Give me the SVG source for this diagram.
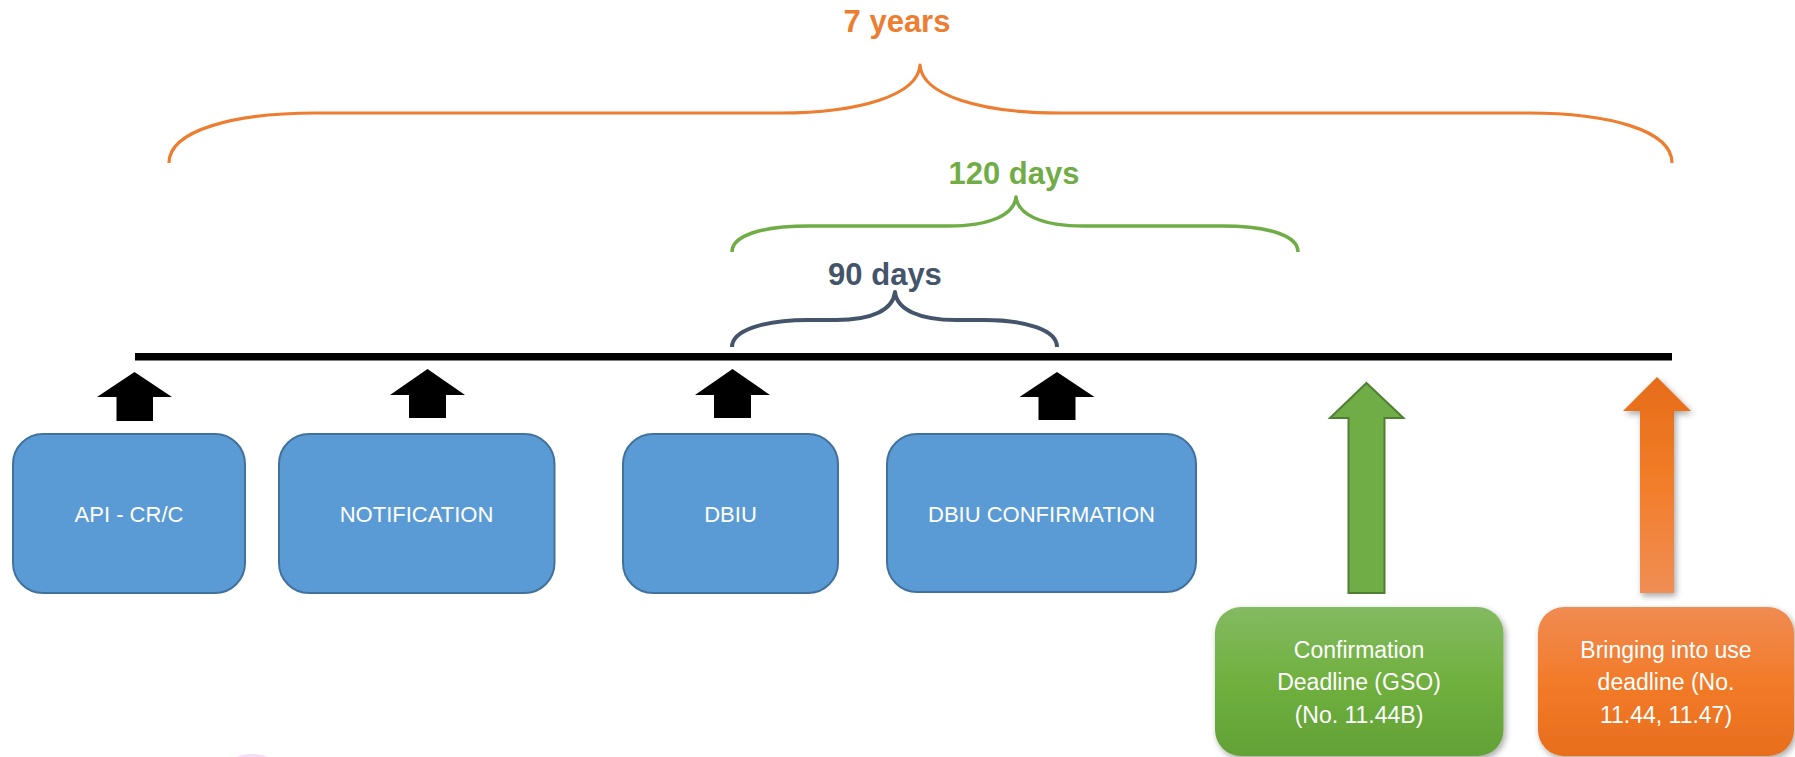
<svg xmlns="http://www.w3.org/2000/svg" width="1795" height="757" viewBox="0 0 1795 757">
  <style>
    .brace { fill: none; stroke-linecap: butt; stroke-linejoin: round; }
    .label { font-family: "Liberation Sans", Arial, sans-serif; font-weight: bold; font-size: 31px; text-anchor: middle; }
    .box { fill: #5B9BD5; stroke: #41719C; stroke-width: 2; }
    .boxtext { font-family: "Liberation Sans", Arial, sans-serif; font-size: 22px; fill: #FFFFFF; text-anchor: middle; }
    .dltext { font-family: "Liberation Sans", Arial, sans-serif; font-size: 23px; fill: #FFFFFF; text-anchor: middle; }
    .blk { fill: #000000; }
  </style>
  <defs>
    <linearGradient id="gOrangeArrow" x1="0" y1="0" x2="0" y2="1">
      <stop offset="0" stop-color="#E66C19"/>
      <stop offset="0.5" stop-color="#F27D2A"/>
      <stop offset="1" stop-color="#F08E55"/>
    </linearGradient>
    <linearGradient id="gOrangeBox" x1="0" y1="0" x2="0" y2="1">
      <stop offset="0" stop-color="#F08B52"/>
      <stop offset="0.5" stop-color="#F27B2A"/>
      <stop offset="1" stop-color="#E86E1C"/>
    </linearGradient>
    <linearGradient id="gGreenBox" x1="0" y1="0" x2="0" y2="1">
      <stop offset="0" stop-color="#84BA62"/>
      <stop offset="0.5" stop-color="#70B03F"/>
      <stop offset="1" stop-color="#62A136"/>
    </linearGradient>
    <filter id="shadow" x="-20%" y="-20%" width="140%" height="140%">
      <feDropShadow dx="2" dy="3" stdDeviation="3" flood-color="#000000" flood-opacity="0.35"/>
    </filter>
  </defs>

  <!-- faint artifact -->
  <ellipse cx="252" cy="772" rx="28" ry="18" fill="#EFC6F3" opacity="0.6"/>

  <!-- timeline -->
  <g id="timeline">
    <rect x="135" y="353" width="1537" height="7.5" fill="#000000"/>
  </g>

  <!-- braces and labels -->
  <g id="brace-7years">
    <path class="brace" stroke="#ED7D31" stroke-width="3.2" d="M169,163 C169,130 235,113 316,113 L780,113 C860,113 918,95 920,65 C922,95 980,113 1060,113 L1528,113 C1608,113 1672,130 1672,163"/>
    <text class="label" x="897" y="32" fill="#ED7D31">7 years</text>
  </g>
  <g id="brace-120days">
    <path class="brace" stroke="#70AD47" stroke-width="3.5" d="M732,252 C732,236 760,226 809,226 L948,226 C990,226 1014,215 1016,197 C1018,215 1042,226 1084,226 L1222,226 C1270,226 1298,236 1298,252"/>
    <text class="label" x="1014" y="184" fill="#70AD47">120 days</text>
  </g>
  <g id="brace-90days">
    <path class="brace" stroke="#44546A" stroke-width="4" d="M732,347 C732,330 765,320 808,320 L836,320 C872,320 893,310 895,292 C897,310 920,320 956,320 L984,320 C1026,320 1057,330 1057,347"/>
    <text class="label" x="885" y="285" fill="#44546A">90 days</text>
  </g>

  <!-- connectors (block arrows) -->
  <g id="connectors">
    <polygon class="blk" points="134.5,372 172,397 153,397 153,421 116.5,421 116.5,397 97,397"/>
    <polygon class="blk" points="427.5,369 465,395 446,395 446,418 409,418 409,395 390,395"/>
    <polygon class="blk" points="732.5,369 770,395 751,395 751,418 714,418 714,395 695,395"/>
    <polygon class="blk" points="1057,372 1094.5,397 1075.5,397 1075.5,420 1038.5,420 1038.5,397 1019.5,397"/>
    <polygon fill="#70AD47" stroke="#507E32" stroke-width="2" points="1366.5,383 1403.5,418 1384.5,418 1384.5,593 1348.5,593 1348.5,418 1330,418"/>
    <polygon fill="url(#gOrangeArrow)" filter="url(#shadow)" points="1657,377 1691,411 1674,411 1674,593 1640,593 1640,411 1623,411"/>
  </g>

  <!-- nodes -->
  <g id="node-api">
    <rect class="box" x="13" y="434" width="232" height="159" rx="30" ry="30"/>
    <text class="boxtext" x="129" y="522">API - CR/C</text>
  </g>
  <g id="node-notification">
    <rect class="box" x="279" y="434" width="275.5" height="159" rx="30" ry="30"/>
    <text class="boxtext" x="416.5" y="522">NOTIFICATION</text>
  </g>
  <g id="node-dbiu">
    <rect class="box" x="623" y="434" width="215" height="159" rx="30" ry="30"/>
    <text class="boxtext" x="730.5" y="522">DBIU</text>
  </g>
  <g id="node-dbiu-confirmation">
    <rect class="box" x="887" y="434" width="309" height="158" rx="30" ry="30"/>
    <text class="boxtext" x="1041.5" y="522">DBIU CONFIRMATION</text>
  </g>
  <g id="node-confirmation-deadline">
    <rect x="1215" y="607" width="288.5" height="149" rx="26" ry="26" fill="url(#gGreenBox)" filter="url(#shadow)"/>
    <text class="dltext" x="1359" y="657.5">Confirmation</text>
    <text class="dltext" x="1359" y="690">Deadline (GSO)</text>
    <text class="dltext" x="1359" y="722.5">(No. 11.44B)</text>
  </g>
  <g id="node-biu-deadline">
    <rect x="1538" y="607" width="256" height="149" rx="26" ry="26" fill="url(#gOrangeBox)" filter="url(#shadow)"/>
    <text class="dltext" x="1666" y="657.5">Bringing into use</text>
    <text class="dltext" x="1666" y="690">deadline (No.</text>
    <text class="dltext" x="1666" y="722.5">11.44, 11.47)</text>
  </g>
</svg>
